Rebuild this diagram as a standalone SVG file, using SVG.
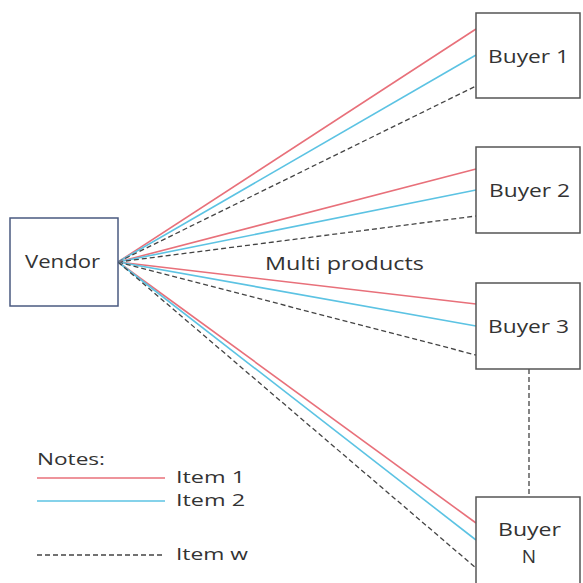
<svg xmlns="http://www.w3.org/2000/svg" width="583" height="583" viewBox="0 0 583 583">
<style>
.box{fill:#fff;stroke:#555;stroke-width:1.5}
.vbox{fill:#fff;stroke:#4a5a80;stroke-width:1.5}
.t{font-family:"Open Sans","Liberation Sans",sans-serif;font-size:19px;fill:#333;font-weight:500}
.s{font-size:17px}
.r{stroke:#e8707a;stroke-width:1.6;fill:none}
.b{stroke:#5cc3e3;stroke-width:1.6;fill:none}
.d{stroke:#444;stroke-width:1.3;stroke-dasharray:5,3;fill:none}
</style>
<rect width="583" height="583" fill="#fff"/>
<g id="connectors">
<line class="r" x1="118" y1="262" x2="476" y2="29"/>
<line class="b" x1="118" y1="262" x2="476" y2="55"/>
<line class="d" x1="118" y1="262" x2="476" y2="86"/>
<line class="r" x1="118" y1="262" x2="476" y2="169"/>
<line class="b" x1="118" y1="262" x2="476" y2="190"/>
<line class="d" x1="118" y1="262" x2="476" y2="216"/>
<line class="r" x1="118" y1="262" x2="476" y2="304"/>
<line class="b" x1="118" y1="262" x2="476" y2="326"/>
<line class="d" x1="118" y1="262" x2="476" y2="355"/>
<line class="r" x1="118" y1="262" x2="476" y2="523"/>
<line class="b" x1="118" y1="262" x2="476" y2="540"/>
<line class="d" x1="118" y1="262" x2="476" y2="568"/>
<line class="d" x1="529" y1="369" x2="529" y2="497"/>
</g>
<g id="vendor">
<rect class="vbox" x="10" y="218" width="108" height="88"/>
<text class="t" x="25" y="268" textLength="75" lengthAdjust="spacingAndGlyphs">Vendor</text>
</g>
<g id="buyer1">
<rect class="box" x="476" y="13" width="104" height="85"/>
<text class="t" x="488" y="63" textLength="81" lengthAdjust="spacingAndGlyphs">Buyer 1</text>
</g>
<g id="buyer2">
<rect class="box" x="476" y="147" width="104" height="86"/>
<text class="t" x="489" y="197" textLength="81" lengthAdjust="spacingAndGlyphs">Buyer 2</text>
</g>
<g id="buyer3">
<rect class="box" x="476" y="283" width="104" height="86"/>
<text class="t" x="488" y="333" textLength="81" lengthAdjust="spacingAndGlyphs">Buyer 3</text>
</g>
<g id="buyerN">
<rect class="box" x="476" y="497" width="104" height="90"/>
<text class="t" x="498" y="536" textLength="63" lengthAdjust="spacingAndGlyphs">Buyer</text>
<text class="t" x="529" y="563" text-anchor="middle">N</text>
</g>
<g id="label">
<text class="t" x="265" y="270" textLength="159" lengthAdjust="spacingAndGlyphs">Multi products</text>
</g>
<g id="legend">
<text class="t s" x="37" y="465" textLength="68" lengthAdjust="spacingAndGlyphs">Notes:</text>
<line class="r" x1="37" y1="478" x2="165" y2="478"/>
<text class="t s" x="176" y="483" textLength="69" lengthAdjust="spacingAndGlyphs">Item 1</text>
<line class="b" x1="37" y1="501" x2="165" y2="501"/>
<text class="t s" x="176" y="506" textLength="69" lengthAdjust="spacingAndGlyphs">Item 2</text>
<line class="d" x1="37" y1="555" x2="165" y2="555"/>
<text class="t s" x="176" y="560" textLength="72" lengthAdjust="spacingAndGlyphs">Item w</text>
</g>
</svg>
